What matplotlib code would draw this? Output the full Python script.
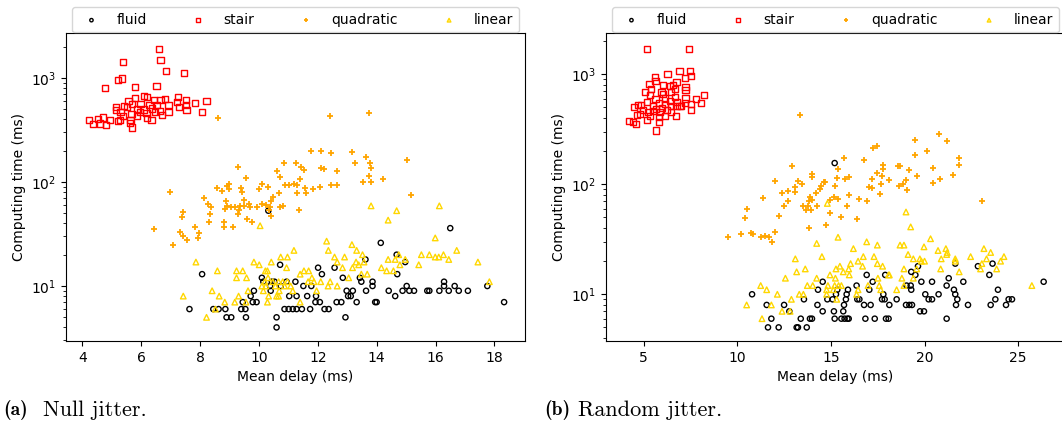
import matplotlib
matplotlib.use("Agg")
import matplotlib.pyplot as plt

# ---- (a) null jitter: mean delay (ms), computing time (ms) ----
a_fluid_x = [10.32, 16.50, 14.14, 8.07, 10.72, 12.01, 12.14, 12.57, 14.68, 13.62,
             14.97, 14.70, 12.85, 13.48, 13.86, 13.86, 13.43, 10.10, 10.15, 10.44,
             10.53, 10.94, 11.24, 10.38, 10.74, 11.51, 11.78, 9.83, 9.72, 10.40,
             12.98, 13.19, 13.64, 14.41, 14.88, 15.02, 15.11, 15.27, 15.72, 15.79,
             16.13, 16.29, 16.29, 16.45, 16.65, 16.79, 17.10, 17.76, 9.79, 9.92,
             11.03, 11.28, 11.64, 11.94, 13.03, 13.12, 14.63, 9.45, 9.54, 11.92,
             12.07, 12.64, 12.80, 13.32, 13.95, 14.00, 7.64, 8.45, 8.63, 8.86,
             9.40, 10.87, 11.01, 11.15, 11.28, 11.46, 11.74, 12.23, 12.37, 8.90,
             9.06, 9.56, 10.60, 12.94, 10.60, 18.33]
a_fluid_y = [53, 36, 26, 13, 16, 15, 13, 15, 20, 18,
             17, 13, 12, 11, 11, 10, 12, 12, 11, 11,
             11, 11, 11, 10, 10, 10, 10, 9, 8, 9,
             9, 9, 9, 9, 9, 10, 9, 9, 9, 9,
             9, 11, 10, 9, 10, 9, 9, 10, 7, 7,
             8, 8, 8, 8, 8, 8, 8, 7, 6, 7,
             7, 7, 7, 7, 7, 7, 6, 6, 6, 6,
             6, 6, 6, 6, 6, 6, 6, 6, 6, 5,
             5, 5, 5, 5, 4, 7]

a_stair_x = [6.60, 6.66, 5.37, 6.84, 7.46, 5.21, 5.36, 4.76, 5.79, 6.52,
             6.09, 6.21, 5.80, 5.57, 6.44, 6.66, 6.82, 7.26, 7.23, 7.52,
             7.82, 8.22, 5.14, 5.14, 5.41, 5.69, 5.98, 6.28, 6.55, 6.93,
             7.28, 7.52, 5.30, 5.53, 5.85, 6.09, 6.37, 6.63, 6.93, 7.54,
             8.06, 5.39, 5.67, 5.96, 6.18, 6.48, 6.70, 4.94, 4.71, 4.54,
             4.22, 4.35, 4.60, 4.80, 5.22, 5.64, 5.85, 6.21, 6.35, 5.62,
             5.69, 5.28]
a_stair_y = [1915, 1500, 1435, 1175, 1125, 955, 990, 807, 825, 837,
             676, 661, 637, 605, 614, 610, 623, 657, 588, 614,
             574, 605, 530, 492, 537, 562, 558, 550, 546, 546,
             530, 546, 474, 522, 504, 499, 510, 485, 471, 492,
             471, 431, 450, 471, 457, 471, 444, 394, 418, 400,
             394, 361, 366, 356, 383, 394, 431, 412, 394, 372,
             335, 394]

a_quad_x = [8.60, 12.42, 13.74, 11.77, 12.11, 12.44, 13.17, 15.03, 13.63, 13.78,
            13.25, 13.82, 10.85, 11.25, 11.44, 11.53, 10.60, 9.29, 12.11, 12.20,
            12.64, 9.55, 10.73, 11.41, 13.73, 14.20, 13.52, 13.81, 6.99, 8.57,
            8.76, 8.93, 8.99, 8.97, 9.40, 9.44, 9.99, 10.12, 10.31, 10.67,
            10.87, 11.01, 11.19, 11.30, 11.30, 11.58, 11.60, 11.85, 12.07, 12.44,
            12.64, 15.18, 8.12, 8.27, 8.36, 8.87, 8.90, 8.86, 9.04, 9.19,
            9.31, 9.35, 9.49, 9.51, 9.65, 9.70, 9.92, 10.12, 10.24, 10.49,
            10.42, 10.38, 10.71, 10.83, 11.37, 7.43, 7.38, 8.34, 8.29, 7.83,
            7.31, 7.41, 7.97, 7.92, 7.54, 7.07, 6.44, 8.82, 8.83, 9.11,
            9.58, 9.77, 9.28, 10.42, 10.33]
a_quad_y = [409, 434, 460, 197, 197, 191, 196, 164, 173, 154,
            151, 137, 154, 154, 138, 130, 129, 140, 136, 132,
            128, 110, 112, 108, 115, 106, 101, 100, 81, 88,
            82, 91, 96, 86, 87, 81, 86, 96, 90, 79,
            94, 94, 96, 93, 79, 87, 79, 85, 89, 93,
            94, 75, 70, 62, 57, 65, 59, 55, 57, 57,
            54, 59, 67, 59, 61, 58, 58, 62, 60, 72,
            65, 58, 57, 59, 54, 52, 46, 49, 41, 37,
            33, 30, 32, 29, 28, 25, 35, 41, 37, 37,
            44, 41, 49, 47, 54]

a_lin_x = [13.81, 16.13, 14.68, 14.39, 10.04, 15.99, 12.30, 13.16, 11.19, 12.36,
           12.91, 13.32, 13.52, 12.57, 12.66, 13.30, 13.39, 13.18, 12.84, 13.57,
           14.39, 14.75, 14.63, 14.79, 14.97, 15.52, 15.79, 15.99, 16.11, 16.27,
           16.45, 16.72, 17.44, 15.43, 14.16, 14.34, 14.57, 7.86, 8.59, 9.24,
           9.24, 9.45, 9.58, 9.83, 10.01, 10.42, 10.74, 10.97, 10.94, 10.22,
           10.29, 10.31, 11.40, 11.53, 11.69, 11.67, 11.80, 11.87, 12.10, 12.42,
           12.35, 12.66, 13.05, 13.48, 13.68, 17.83, 10.20, 10.24, 10.47, 10.56,
           10.67, 10.81, 10.87, 10.97, 11.08, 11.15, 10.69, 10.60, 10.33, 10.15,
           10.29, 10.67, 9.63, 9.31, 8.84, 8.65, 8.41, 7.43, 9.18, 9.56,
           8.52, 8.22, 11.40, 11.96, 10.10]
a_lin_y = [59, 59, 53, 43, 38, 29, 27, 25, 22, 22,
           19, 22, 20, 19, 17, 17, 16, 15, 15, 17,
           18, 20, 18, 16, 18, 20, 20, 19, 19, 20,
           18, 22, 17, 16, 15, 14, 14, 17, 14, 14,
           12, 14, 12, 17, 16, 17, 19, 19, 15, 14,
           14, 12, 13, 14, 14, 11, 12, 11, 11, 11,
           10, 10, 12, 13, 13, 11, 11, 10, 11, 10,
           11, 11, 10, 11, 10, 9, 9, 8, 8, 9,
           7, 8, 9, 8, 7, 8, 9, 8, 7, 7,
           6, 5, 7, 9, 10]

# ---- (b) random jitter ----
b_fluid_x = [15.20, 10.79, 11.57, 11.82, 11.64, 12.21, 12.50, 12.78, 13.17, 13.24,
             13.39, 13.71, 13.88, 13.99, 13.56, 14.28, 14.56, 14.56, 14.31, 14.81,
             15.09, 15.16, 15.20, 15.27, 15.34, 15.56, 15.66, 15.70, 15.73, 15.80,
             15.88, 15.95, 15.84, 15.91, 16.37, 16.41, 16.52, 16.77, 16.84, 16.91,
             17.05, 17.12, 17.23, 17.34, 17.73, 17.80, 17.87, 17.90, 17.94, 18.08,
             18.12, 18.51, 19.04, 19.01, 19.19, 19.26, 19.29, 19.33, 19.29, 19.51,
             19.65, 19.76, 19.83, 19.97, 20.04, 20.22, 20.40, 20.40, 20.75, 21.18,
             21.18, 21.29, 21.57, 21.64, 21.68, 21.64, 21.75, 22.07, 22.32, 22.85,
             23.46, 23.53, 23.63, 23.78, 23.92, 24.35, 24.49, 24.67, 26.36]
b_fluid_y = [156, 10, 8, 6, 5, 5, 8, 7, 5, 5,
             6, 5, 6, 6, 9, 8, 7, 13, 11, 9,
             9, 7, 6, 10, 11, 6, 7, 8, 6, 9,
             6, 6, 10, 11, 12, 9, 9, 8, 6, 15,
             11, 8, 13, 6, 9, 10, 9, 15, 6, 6,
             8, 9, 12, 8, 8, 12, 11, 8, 16, 15,
             18, 7, 13, 7, 10, 9, 9, 13, 10, 6,
             12, 14, 11, 10, 8, 19, 9, 13, 8, 18,
             15, 8, 19, 9, 11, 8, 9, 9, 13]

b_stair_x = [5.16, 7.44, 6.91, 7.48, 6.27, 7.21, 7.51, 5.59, 5.63, 5.31,
             5.38, 5.09, 6.05, 6.41, 6.55, 6.76, 7.23, 7.23, 6.66, 6.44,
             5.95, 6.02, 5.34, 6.69, 7.23, 7.80, 8.22, 8.05, 7.51, 7.51,
             7.01, 7.19, 6.80, 6.41, 6.16, 5.63, 5.80, 6.16, 6.48, 6.76,
             4.88, 4.49, 4.70, 5.16, 5.52, 4.95, 5.23, 5.52, 5.88, 6.23,
             6.44, 5.98, 5.66, 4.63, 4.20, 4.45, 4.59, 5.16, 5.34, 5.80,
             5.84, 6.16, 5.66, 4.81, 6.73, 6.91]
b_stair_y = [1700, 1710, 1072, 1072, 1012, 931, 971, 951, 869, 811,
             730, 695, 798, 787, 798, 857, 761, 719, 735, 695,
             685, 667, 649, 626, 604, 596, 644, 548, 541, 477,
             519, 548, 564, 572, 604, 596, 548, 541, 519, 512,
             526, 504, 526, 564, 512, 477, 457, 463, 457, 470,
             457, 490, 483, 427, 376, 366, 351, 386, 415, 409,
             371, 421, 309, 439, 421, 512]

b_quad_x = [13.37, 12.90, 15.72, 16.75, 17.25, 17.46, 19.51, 20.79, 21.18, 20.15,
            19.49, 21.85, 21.85, 20.47, 21.50, 20.82, 20.47, 23.08, 18.60, 18.71,
            19.15, 17.76, 17.80, 17.44, 17.73, 17.18, 18.10, 17.67, 17.03, 17.18,
            17.62, 18.65, 19.01, 18.87, 19.08, 19.58, 15.38, 15.31, 15.77, 15.95,
            15.24, 15.98, 16.50, 16.93, 15.17, 15.38, 15.84, 13.99, 13.99, 12.00,
            13.24, 13.46, 13.06, 13.06, 12.71, 12.39, 11.36, 14.20, 14.49, 14.70,
            14.63, 14.42, 13.88, 13.99, 13.85, 13.78, 14.24, 13.49, 13.67, 13.95,
            12.71, 12.50, 12.25, 14.95, 14.95, 15.56, 16.37, 10.50, 10.40, 9.51,
            10.18, 10.72, 10.86, 11.25, 11.46, 11.68, 11.85, 12.00, 13.85, 14.74]
b_quad_y = [430, 148, 175, 167, 212, 221, 254, 284, 249, 202,
            186, 172, 150, 142, 122, 112, 103, 71, 148, 146,
            136, 150, 138, 127, 118, 112, 110, 101, 94, 92,
            82, 97, 109, 101, 89, 118, 138, 114, 111, 117,
            97, 80, 73, 70, 77, 73, 63, 125, 117, 108,
            108, 101, 94, 85, 87, 84, 75, 84, 96, 106,
            104, 90, 76, 72, 70, 64, 64, 63, 58, 58,
            71, 63, 51, 72, 55, 50, 48, 59, 49, 33,
            35, 36, 35, 33, 34, 33, 30, 37, 40, 43]

b_lin_x = [14.81, 19.01, 19.26, 15.38, 16.91, 14.24, 16.20, 17.48, 18.69, 18.90,
           20.32, 19.97, 20.72, 21.14, 21.21, 21.18, 22.46, 23.17, 23.53, 23.31,
           24.24, 24.06, 23.85, 22.99, 23.06, 21.64, 21.64, 20.89, 20.86, 21.85,
           19.12, 19.40, 19.75, 20.00, 19.83, 19.58, 18.90, 18.79, 19.40, 18.08,
           17.76, 17.48, 17.30, 16.73, 16.69, 16.05, 16.45, 15.95, 15.98, 15.48,
           15.27, 15.66, 14.95, 15.24, 14.52, 13.63, 13.10, 13.17, 12.57, 14.24,
           14.03, 13.74, 14.84, 15.20, 15.41, 15.56, 14.77, 15.13, 14.77, 15.31,
           16.45, 16.98, 17.51, 17.58, 17.66, 16.37, 18.51, 18.90, 18.12, 11.25,
           11.57, 12.14, 13.31, 13.53, 12.89, 11.82, 12.39, 12.82, 10.50, 11.32,
           25.73]
b_lin_y = [67, 56, 41, 33, 30, 29, 26, 28, 28, 28,
           32, 27, 25, 26, 24, 23, 22, 26, 24, 21,
           22, 20, 17, 17, 19, 21, 20, 21, 17, 16,
           23, 21, 21, 20, 20, 17, 17, 14, 14, 15,
           18, 19, 22, 22, 18, 19, 20, 17, 15, 18,
           17, 16, 15, 14, 22, 17, 21, 16, 14, 14,
           12, 12, 12, 12, 12, 12, 11, 11, 10, 9,
           11, 12, 14, 12, 11, 10, 11, 12, 15, 12,
           11, 10, 10, 10, 9, 8, 7, 7, 8, 6,
           12]

W, H = 1062, 430
fig = plt.figure(figsize=(W / 100, H / 100), dpi=100)


def panel(left, fx, fy, sx, sy, qx, qy, lx, ly, xlim, ylim):
    ax = fig.add_axes([left / W, (H - 341) / H, 459 / W, 307.7 / H])
    ax.scatter(fx, fy, s=14, marker="o", facecolors="none", edgecolors="black",
               linewidths=1.0, label="fluid")
    ax.scatter(sx, sy, s=20, marker="s", facecolors="none", edgecolors="red",
               linewidths=1.0, label="stair")
    ax.scatter(qx, qy, s=22, marker="+", color="orange", linewidths=1.3,
               label="quadratic")
    ax.scatter(lx, ly, s=16, marker="^", facecolors="none", edgecolors="gold",
               linewidths=1.0, label="linear")
    ax.set_yscale("log")
    ax.set_xlim(*xlim)
    ax.set_ylim(*ylim)
    ax.set_xlabel("Mean delay (ms)")
    ax.set_ylabel("Computing time (ms)")
    ax.legend(loc="lower left", bbox_to_anchor=(6 / 459, 1.003, 447 / 459, 0.0),
              mode="expand", ncol=4, borderaxespad=0, markerscale=0.65)
    return ax


panel(66, a_fluid_x, a_fluid_y, a_stair_x, a_stair_y, a_quad_x, a_quad_y,
      a_lin_x, a_lin_y, (3.446, 19.04), (2.96, 2690))
panel(606, b_fluid_x, b_fluid_y, b_stair_x, b_stair_y, b_quad_x, b_quad_y,
      b_lin_x, b_lin_y, (2.99, 27.5), (3.76, 2360))

# sub-figure captions
cy = 1 - 410 / H
fig.text(3 / W, cy, "(a)", family="cmb10", fontsize=14, va="center")
fig.text(43 / W, cy, "Null jitter.", family="cmr10", fontsize=16, va="center")
fig.text(544 / W, cy, "(b)", family="cmb10", fontsize=14, va="center")
fig.text(578 / W, cy, "Random jitter.", family="cmr10", fontsize=16, va="center")

fig.savefig("out.png", dpi=100)
